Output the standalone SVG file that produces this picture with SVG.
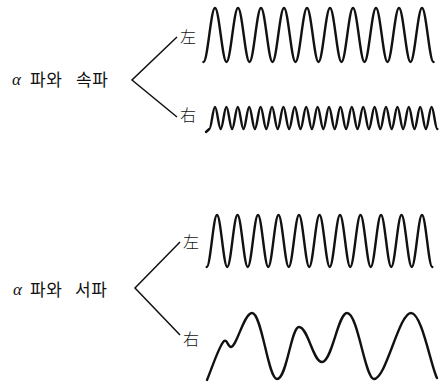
<svg xmlns="http://www.w3.org/2000/svg" width="443" height="382" viewBox="0 0 443 382">
<style>
.lbl{font-family:"Noto Sans CJK KR","Noto Sans CJK JP",sans-serif;font-size:17px;fill:#111;letter-spacing:0.5px}
.alpha{font-family:"Liberation Serif",serif;font-style:italic;font-size:17px;fill:#111}
.side{font-family:"Noto Sans CJK JP","Noto Sans CJK SC",sans-serif;font-size:16px;fill:#111;font-weight:300}
.wave{fill:none;stroke:#111;stroke-width:2.4;stroke-linejoin:round;stroke-linecap:round}
.conn{fill:none;stroke:#111;stroke-width:1.5}
</style>
<rect width="443" height="382" fill="#fff"/>
<g id="connectors">
<path class="conn" d="M177 37 L132 80 L177 117"/>
<path class="conn" d="M180 242 L135 288 L180 335"/>
</g>
<g id="node-top">
<text class="alpha" x="12" y="85">α</text>
<text class="lbl" x="30" y="86">파와</text>
<text class="lbl" x="76" y="86">속파</text>
</g>
<g id="node-bottom">
<text class="alpha" x="13" y="295">α</text>
<text class="lbl" x="30" y="296">파와</text>
<text class="lbl" x="75" y="296">서파</text>
</g>
<g id="top-left">
<text class="side" x="180" y="43">左</text>
<path class="wave" d="M203.5 62 c4.18 0 7.32 -54 11.5 -54 s7.32 54 11.5 54 s7.32 -54 11.5 -54 s7.32 54 11.5 54 s7.32 -54 11.5 -54 s7.32 54 11.5 54 s7.32 -54 11.5 -54 s7.32 54 11.5 54 s7.32 -54 11.5 -54 s7.32 54 11.5 54 s7.32 -54 11.5 -54 s7.32 54 11.5 54 s7.32 -54 11.5 -54 s7.32 54 11.5 54 s7.32 -54 11.5 -54 s7.32 54 11.5 54 s7.32 -54 11.5 -54 s7.32 54 11.5 54 s7.32 -54 11.5 -54 s7.32 54 11.5 54"/>
</g>
<g id="top-right">
<text class="side" x="180" y="121">右</text>
<path class="wave" d="M206 132 L209.3 129 c2.07 0 3.63 -22 5.7 -22 s3.63 22 5.7 22 s3.63 -22 5.7 -22 s3.63 22 5.7 22 s3.63 -22 5.7 -22 s3.63 22 5.7 22 s3.63 -22 5.7 -22 s3.63 22 5.7 22 s3.63 -22 5.7 -22 s3.63 22 5.7 22 s3.63 -22 5.7 -22 s3.63 22 5.7 22 s3.63 -22 5.7 -22 s3.63 22 5.7 22 s3.63 -22 5.7 -22 s3.63 22 5.7 22 s3.63 -22 5.7 -22 s3.63 22 5.7 22 s3.63 -22 5.7 -22 s3.63 22 5.7 22 s3.63 -22 5.7 -22 s3.63 22 5.7 22 s3.63 -22 5.7 -22 s3.63 22 5.7 22 s3.63 -22 5.7 -22 s3.63 22 5.7 22 s3.63 -22 5.7 -22 s3.63 22 5.7 22 s3.63 -22 5.7 -22 s3.63 22 5.7 22 s3.63 -22 5.7 -22 s3.63 22 5.7 22 s3.63 -22 5.7 -22 s3.63 22 5.7 22 s3.63 -22 5.7 -22 s3.63 22 5.7 22 s3.63 -22 5.7 -22 s3.63 22 5.7 22 s3.63 -22 5.7 -22 s3.63 22 5.7 22"/>
</g>
<g id="bottom-left">
<text class="side" x="183" y="248">左</text>
<path class="wave" d="M206.75 267 c3.72 0 6.53 -52 10.25 -52 s6.53 52 10.25 52 s6.53 -52 10.25 -52 s6.53 52 10.25 52 s6.53 -52 10.25 -52 s6.53 52 10.25 52 s6.53 -52 10.25 -52 s6.53 52 10.25 52 s6.53 -52 10.25 -52 s6.53 52 10.25 52 s6.53 -52 10.25 -52 s6.53 52 10.25 52 s6.53 -52 10.25 -52 s6.53 52 10.25 52 s6.53 -52 10.25 -52 s6.53 52 10.25 52 s6.53 -52 10.25 -52 s6.53 52 10.25 52 s6.53 -52 10.25 -52 s6.53 52 10.25 52 s6.53 -52 10.25 -52 s6.53 52 10.25 52"/>
</g>
<g id="bottom-right">
<text class="side" x="183" y="345">右</text>
<path class="wave" d="M207 380 C212 368 219 346 224 341 C227 339 228 347 231 347 C237 346 244 313 252 313 C262 313 268 379 277 379 C287 379 291 327 299 327 C308 327 313 362 322 362 C332 362 338 313 347 313 C358 313 365 379 374 379 C386 379 399 313 411 313 C422 313 431 367 437 378"/>
</g>
</svg>
